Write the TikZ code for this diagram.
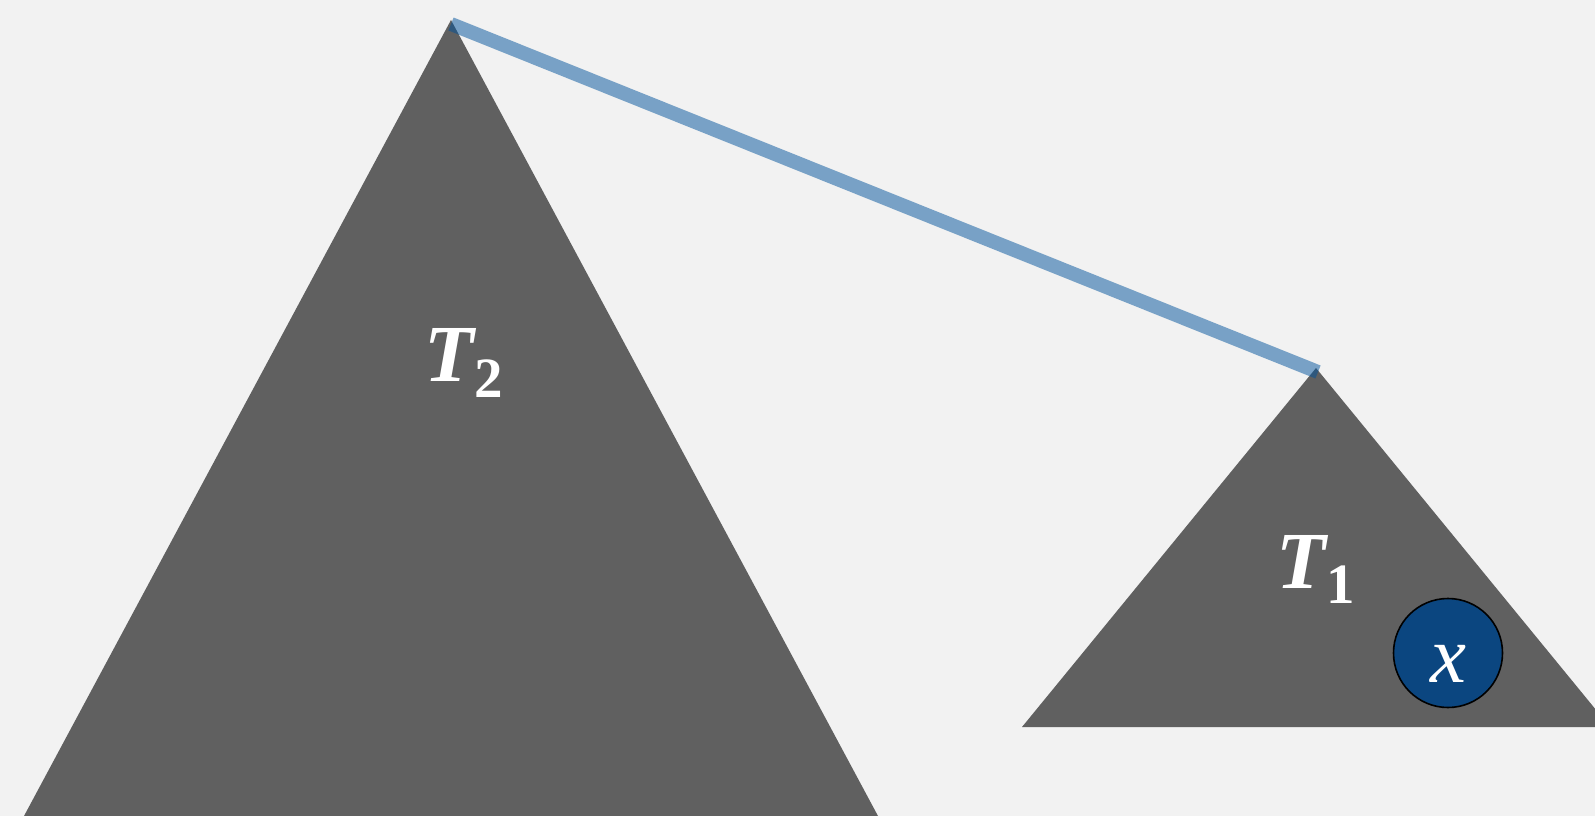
\documentclass[tikz,border=0pt]{standalone}
\usepackage{fontspec}
\setmainfont{Liberation Serif}
\definecolor{bgc}{RGB}{242,242,242}
\definecolor{treec}{RGB}{96,96,96}
\definecolor{edgec}{RGB}{0,82,155}
\definecolor{nodec}{RGB}{11,70,128}
\tikzset{
  tree/.style={fill=treec},
  lbl/.style={text=white, inner sep=0pt, anchor=base west, font=\fontsize{81}{81}\selectfont\bfseries\itshape},
  sub/.style={text=white, inner sep=0pt, anchor=base west, font=\fontsize{57}{57}\selectfont\bfseries},
  xlbl/.style={text=white, inner sep=0pt, anchor=base, font=\fontsize{81}{81}\selectfont\itshape},
  edgeline/.style={draw=edgec, draw opacity=0.5, line width=14pt},
  xnode/.style={circle, fill=nodec, draw=black, line width=1.6pt, minimum size=109pt, inner sep=0pt}
}
\begin{document}
\begin{tikzpicture}[x=1pt,y=-1pt]
\fill[bgc] (0,0) rectangle (1595,816);
\clip (0,0) rectangle (1595,816);
\coordinate (r2) at (451,20);
\coordinate (r1) at (1316,368);
\coordinate (e2) at (451,24);
\coordinate (e1) at (1318,372);
\fill[tree] (r2) -- (24,816) -- (878,816) -- cycle;
\fill[tree] (r1) -- (1022,727) -- (1610,727) -- cycle;
\draw[edgeline] (e2) -- (e1);
\node[lbl] (t2) at (424,381) {T};
\node[sub] (s2) at (474,397) {2};
\node[lbl] (t1) at (1276,588) {T};
\node[sub] (s1) at (1326,603) {1};
\node[xnode] (x) at (1448,653) {};
\node[xlbl] (xl) at (1448,682) {x};
\end{tikzpicture}
\end{document}
